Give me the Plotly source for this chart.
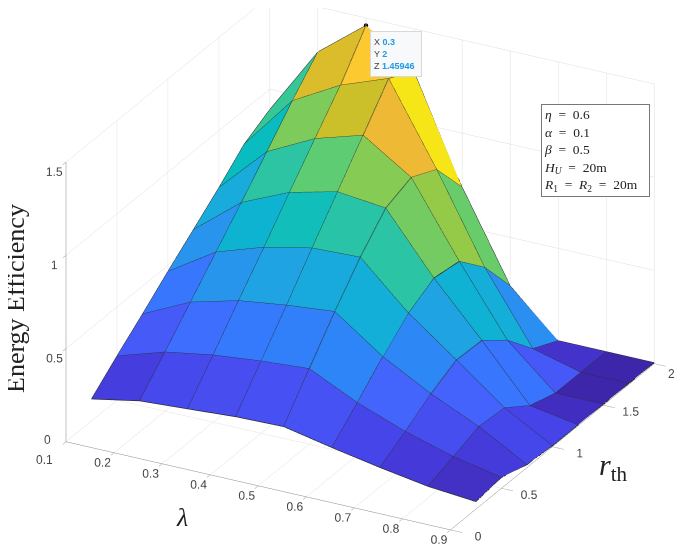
import plotly.graph_objects as go

# grid of the surface
lam = [0.1, 0.2, 0.3, 0.4, 0.5, 0.6, 0.7, 0.8, 0.9]
r_th = [0.25, 0.5, 0.75, 1, 1.25, 1.5, 1.75, 2]

# efficiency, one list per lambda value
ee_01 = [0.118, 0.237, 0.35, 0.468, 0.58, 0.694, 0.817, 0.89]
ee_02 = [0.167, 0.317, 0.473, 0.63, 0.785, 0.946, 1.108, 1.258]
ee_03 = [0.183, 0.36, 0.54, 0.715, 0.898, 1.075, 1.25, 1.45946]
ee_04 = [0.2, 0.387, 0.575, 0.77, 0.96, 1.152, 1.345, 1.27]
ee_05 = [0.206, 0.405, 0.6, 0.78, 0.932, 0.985, 0.916, 0.71]
ee_06 = [0.153, 0.282, 0.417, 0.54, 0.616, 0.594, 0.45, 0.24]
ee_07 = [0.105, 0.186, 0.277, 0.347, 0.34, 0.23, 0.073, 0.005]
ee_08 = [0.063, 0.11, 0.16, 0.149, 0.05, 0.005, 0.005, 0.005]
ee_09 = [0.04, 0.058, 0.015, 0.005, 0.005, 0.005, 0.005, 0.005]
ee = [ee_01, ee_02, ee_03, ee_04, ee_05, ee_06, ee_07, ee_08, ee_09]

x_ticks = [0.1, 0.2, 0.3, 0.4, 0.5, 0.6, 0.7, 0.8, 0.9]
y_ticks = [0, 0.5, 1, 1.5, 2]
z_ticks = [0, 0.5, 1, 1.5]

# MATLAB parula, every third entry
parula = [
    (0.2422, 0.1504, 0.6603), (0.2647, 0.1978, 0.7952), (0.2783, 0.2559, 0.8991),
    (0.2810, 0.3228, 0.9579), (0.2699, 0.3892, 0.9906), (0.2206, 0.4603, 0.9973),
    (0.1786, 0.5289, 0.9682), (0.1540, 0.5902, 0.9218), (0.1248, 0.6459, 0.8883),
    (0.0689, 0.6948, 0.8394), (0.0067, 0.7312, 0.7660), (0.1408, 0.7584, 0.6842),
    (0.2161, 0.7843, 0.5923), (0.3406, 0.8008, 0.4789), (0.5044, 0.7993, 0.3480),
    (0.6720, 0.7793, 0.2227), (0.8203, 0.7498, 0.1535), (0.9393, 0.7288, 0.2100),
    (0.9970, 0.7659, 0.2199), (0.9786, 0.8317, 0.1466), (0.9628, 0.9204, 0.0772),
    (0.9769, 0.9839, 0.0805),
]
colorscale = [[k / (len(parula) - 1), "rgb(%d,%d,%d)" % (r * 255, g * 255, b * 255)]
              for k, (r, g, b) in enumerate(parula)]

nx, ny = len(lam), len(r_th)
vx, vy, vz = [], [], []
for i in range(nx):
    for j in range(ny):
        vx.append(lam[i])
        vy.append(r_th[j])
        vz.append(ee[i][j])

# two triangles per cell, coloured by the cell's first corner like surf does
ti, tj, tk, cell = [], [], [], []
for i in range(nx - 1):
    for j in range(ny - 1):
        a = i * ny + j
        b = (i + 1) * ny + j
        c = (i + 1) * ny + j + 1
        d = i * ny + j + 1
        ti += [a, a]
        tj += [b, c]
        tk += [c, d]
        cell += [ee[i][j], ee[i][j]]

# edge lines
lx, ly, lz = [], [], []
for i in range(nx):
    lx += [lam[i]] * ny + [None]
    ly += r_th + [None]
    lz += ee[i] + [None]
for j in range(ny):
    lx += lam + [None]
    ly += [r_th[j]] * nx + [None]
    lz += [ee[i][j] for i in range(nx)] + [None]

fig = go.Figure()
fig.add_trace(go.Mesh3d(
    x=vx, y=vy, z=vz, i=ti, j=tj, k=tk,
    intensity=cell, intensitymode="cell",
    colorscale=colorscale, cmin=0, cmax=1.43, showscale=False,
    flatshading=True, hoverinfo="skip",
    lighting=dict(ambient=1, diffuse=0, specular=0, fresnel=0, roughness=1),
))
fig.add_trace(go.Scatter3d(
    x=lx, y=ly, z=lz, mode="lines",
    line=dict(color="#2b2b2b", width=1.5), hoverinfo="skip", showlegend=False,
))
fig.add_trace(go.Scatter3d(
    x=[0.3], y=[2], z=[1.45946], mode="markers",
    marker=dict(color="black", size=2.5), hoverinfo="skip", showlegend=False,
))


def axis(vals, rng, ticklen, labels=None):
    return dict(
        range=rng, tickvals=vals, ticktext=labels or [str(v) for v in vals], tickangle=0,
        title=dict(text=""), showbackground=False, showspikes=False,
        showgrid=True, gridcolor="#dedede", gridwidth=1,
        showline=True, linecolor="#8a8a8a", linewidth=1, zeroline=False,
        ticks="outside", ticklen=ticklen, tickcolor="#8a8a8a",
        tickfont=dict(family="Liberation Sans", size=12, color="#444444"),
    )


serif = "Liberation Serif"
sans = "Liberation Sans"
tip_blue = "#1e9ae6"
eq = "\u2002=\u2002"

# the page body has an 8px margin, so the figure is a little smaller than the window
W, H = 677, 546

fig.update_layout(
    width=W, height=H, autosize=False,
    margin=dict(l=0, r=0, t=0, b=0),
    paper_bgcolor="white", showlegend=False,
    scene=dict(
        domain=dict(x=[0, 1], y=[0, 1]),
        # corner labels collide or get dropped at the edge, those are annotations
        xaxis=axis(x_ticks, [0.1, 0.9], 13, [""] + [str(v) for v in x_ticks[1:]]),
        yaxis=axis(y_ticks, [0, 2], 7, [str(v) for v in y_ticks[:-1]] + [""]),
        zaxis=axis(z_ticks, [0, 1.5], 13, [""] + [str(v) for v in z_ticks[1:]]),
        aspectmode="manual",
        aspectratio=dict(x=1.594, y=1.594, z=1.136),
        camera=dict(
            projection=dict(type="orthographic"),
            eye=dict(x=1.0104, y=-2.0129, z=1.006),
            center=dict(x=-0.0446, y=-0.0229, z=-0.074),
            up=dict(x=0, y=0, z=1),
        ),
    ),
    annotations=[
        dict(text="Energy Efficiency", x=15, y=299, textangle=-90,
             font=dict(family=serif, size=26, color="#222222")),
        dict(text="<i>λ</i>", x=182, y=517,
             font=dict(family=serif, size=26, color="#222222")),
        dict(text="<i>r</i><sub>th</sub>", x=613, y=467,
             font=dict(family=serif, size=30, color="#222222")),
        dict(text="0", x=47, y=440, font=dict(family=sans, size=12, color="#444444")),
        dict(text="0.1", x=44, y=460, font=dict(family=sans, size=12, color="#444444")),
        dict(text="2", x=671, y=374, font=dict(family=sans, size=12, color="#444444")),
        dict(text="<i>η</i>" + eq + "0.6<br><i>α</i>" + eq + "0.1<br><i>β</i>" + eq + "0.5<br>"
                  "<i>H<sub>U</sub></i>" + eq + "20m<br><i>R</i><sub>1</sub>" + eq
                  + "<i>R</i><sub>2</sub>" + eq + "20m",
             x=595, y=151, align="left", width=103, height=87,
             bgcolor="white", bordercolor="#777777", borderwidth=1, borderpad=2,
             font=dict(family=serif, size=13.5, color="#222222")),
        dict(text="X <b style='color:%s'>0.3</b><br>Y <b style='color:%s'>2</b><br>"
                  "Z <b style='color:%s'>1.45946</b>" % (tip_blue, tip_blue, tip_blue),
             x=396, y=54, align="left", width=44, height=38,
             bgcolor="#f8f9fb", bordercolor="#d8d8d8", borderwidth=1, borderpad=3,
             font=dict(family=sans, size=9, color="#444444")),
    ],
)
# annotations are given in window pixels
for a in fig.layout.annotations:
    a.update(xref="paper", yref="paper", showarrow=False,
             xanchor="center", yanchor="middle",
             x=(a.x - 8) / W, y=1 - (a.y - 8) / H)

fig.write_html("out.html")
